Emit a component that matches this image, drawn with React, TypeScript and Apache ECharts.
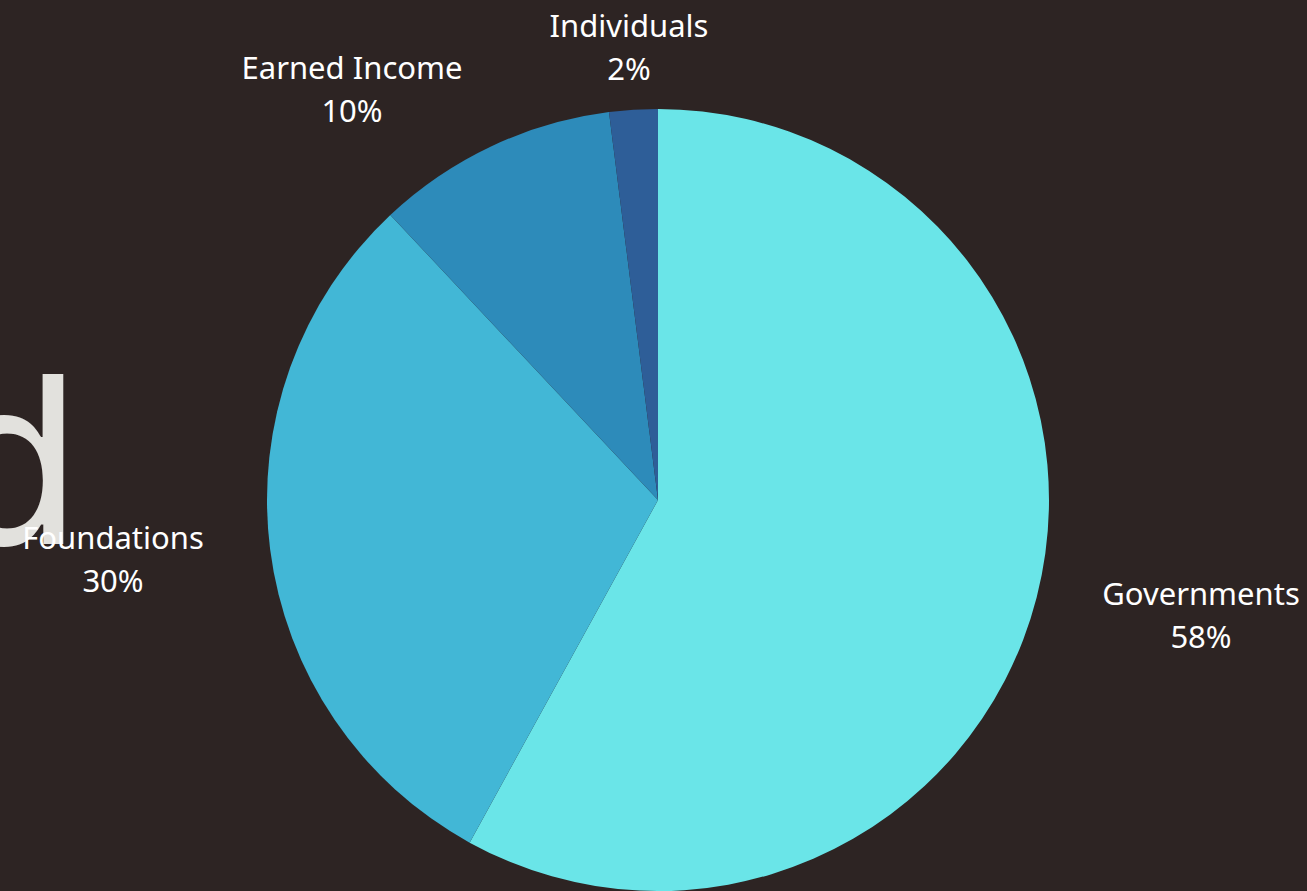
import React, { useEffect, useRef } from "react";
import * as echarts from "echarts";

const categories = ["Governments", "Foundations", "Earned Income", "Individuals"];
const values = [58, 30, 10, 2];
const colors = ["#6ae5e8", "#42b7d6", "#2d8bba", "#2e5e98"];

// label offsets from pie centre (layout only)
const labelOffsets: [number, number][] = [
  [543, 114],
  [-545, 58],
  [-306, -412],
  [-29, -454],
];

const W = 1307;
const H = 891;
const CX = 658;
const CY = 500;

export default function App() {
  const ref = useRef<HTMLDivElement>(null);
  useEffect(() => {
    if (!ref.current) return;
    const chart = echarts.init(ref.current, null, { renderer: "svg" });
    chart.setOption({
      animation: false,
      backgroundColor: "#2d2423",
      graphic: [
        {
          type: "text",
          z: 0,
          left: -62,
          top: 341,
          style: {
            text: "d",
            font: "400 234px Inter",
            fill: "#e2e1dd",
          },
        },
      ],
      series: [
        {
          type: "pie",
          z: 2,
          center: [CX, CY],
          radius: [0, 391],
          startAngle: 90,
          clockwise: true,
          data: categories.map((name, i) => ({
            name,
            value: values[i],
            itemStyle: { color: colors[i] },
          })),
          itemStyle: { borderWidth: 0 },
          label: {
            show: true,
            position: "outside",
            formatter: "{b}\n{d}%",
            color: "#ffffff",
            fontFamily: "Noto Sans",
            fontSize: 31,
            lineHeight: 43,
            align: "center",
          },
          labelLine: { show: false },
          labelLayout: (params: any) => {
            const o = labelOffsets[params.dataIndex];
            return {
              x: CX + o[0],
              y: CY + o[1],
              align: "center",
              verticalAlign: "middle",
            };
          },
          emphasis: { disabled: true },
        },
      ],
    });
    return () => chart.dispose();
  }, []);
  return (
    <div
      ref={ref}
      style={{ position: "absolute", left: 0, top: 0, width: W, height: H }}
    />
  );
}
